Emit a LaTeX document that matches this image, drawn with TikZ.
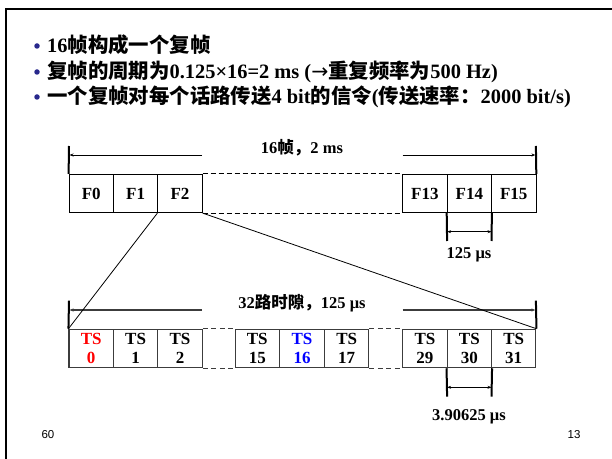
\documentclass[tikz,border=0pt]{standalone}
\usepackage{fontspec}
\setmainfont{Liberation Serif}
\newfontfamily\cjk{Noto Sans CJK SC}
\newfontfamily\footfont{Liberation Sans}
\newfontfamily\symfont{DejaVu Sans}
\usetikzlibrary{arrows.meta}
\newcommand\zh[1]{{\cjk\bfseries #1}}
\definecolor{bulletblue}{RGB}{40,40,140}
\definecolor{dgray}{RGB}{60,60,60}
\begin{document}
\begin{tikzpicture}[x=1bp,y=-1bp,
  bul/.style={circle,fill=bulletblue,inner sep=0,minimum size=5.5bp},
  txtline/.style={anchor=base west,inner sep=0,font=\fontsize{20.4bp}{24bp}\selectfont\bfseries},
  lab/.style={inner sep=0,font=\fontsize{16.5bp}{19bp}\selectfont\bfseries},
  fbox/.style={draw,line width=0.8bp,minimum width=44.4bp,minimum height=38.4bp,inner sep=0,
    font=\fontsize{17bp}{19bp}\selectfont\bfseries},
  tbox/.style={draw=dgray,line width=1.1bp,minimum width=44.4bp,minimum height=38.4bp,inner sep=0,
    align=center,font=\fontsize{17bp}{19bp}\selectfont\bfseries},
  tickln/.style={line width=2bp},
  dimln/.style={line width=0.8bp,-{Stealth[length=4bp,width=3bp]}},
  ddimln/.style={line width=0.8bp,{Stealth[length=4bp,width=3bp]}-{Stealth[length=4bp,width=3bp]}},
  gdimln/.style={draw=dgray,line width=1.6bp,-{Stealth[length=4bp,width=3bp]}},
  dashln/.style={dash pattern=on 5bp off 3bp,line width=0.8bp},
  gdashln/.style={dash pattern=on 5bp off 3.5bp,line width=1.1bp,draw=dgray}]
\useasboundingbox (0,0) rectangle (612,459);
% frame
\coordinate (fa) at (6,459);
\coordinate (fb) at (6,9);
\coordinate (fc) at (612,9);
\draw[line width=2.5bp] (fa) -- (fb) -- (fc);
% bullets
\node[bul] (b1) at (37,46) {};
\node[bul] (b2) at (37,72) {};
\node[bul] (b3) at (37,97) {};
\node[txtline] (l1) at (47,53) {16\zh{帧构成一个复帧}};
\node[txtline] (l2) at (47,79) {\zh{复帧的周期为}0.125×16=2 ms ({\symfont\mdseries →}\zh{重复频率为}500 Hz)};
\node[txtline] (l3) at (47,104) {\zh{一个复帧对每个话路传送}4 bit\zh{的信令}(\zh{传送速率：}2000 bit/s)};
% top row
\node[fbox] (f0) at (91.2,193.5) {F0};
\node[fbox] (f1) at (135.6,193.5) {F1};
\node[fbox] (f2) at (180.0,193.5) {F2};
\node[fbox] (f13) at (424.9,193.5) {F13};
\node[fbox] (f14) at (469.3,193.5) {F14};
\node[fbox] (f15) at (513.7,193.5) {F15};
\draw[dashln] (f2.north east) -- (f13.north west);
\draw[dashln] (f2.south east) -- (f13.south west);
% top dimension
\coordinate (tl1) at (69,146);
\coordinate (tr1) at (535.9,146);
\coordinate (al) at (69.5,155);
\coordinate (am) at (202.2,155);
\coordinate (an) at (402.7,155);
\coordinate (ar) at (535.4,155);
\draw[tickln] (tl1) -- (f0.north west);
\draw[tickln] (tr1) -- (f15.north east);
\draw[dimln] (am) -- (al);
\draw[dimln] (an) -- (ar);
\node[lab] (t16) at (302,148) {16\zh{帧，}2 ms};
% F14 width
\coordinate (fl) at (447.1,241);
\coordinate (fr) at (491.5,241);
\draw[tickln] (f14.south west) -- (fl);
\draw[tickln] (f14.south east) -- (fr);
\coordinate (fla) at (447.1,231.7);
\coordinate (fra) at (491.5,231.7);
\draw[ddimln] (fla) -- (fra);
\node[lab] (t125) at (469,255) {125 μs};
% bottom row
\node[tbox,text=red] (ts0) at (91.2,348.5) {TS\\0};
\node[tbox] (ts1) at (135.6,348.5) {TS\\1};
\node[tbox] (ts2) at (180.0,348.5) {TS\\2};
\node[tbox] (ts15) at (257.3,348.5) {TS\\15};
\node[tbox,text=blue] (ts16) at (302.0,348.5) {TS\\16};
\node[tbox] (ts17) at (346.7,348.5) {TS\\17};
\node[tbox] (ts29) at (424.9,348.5) {TS\\29};
\node[tbox] (ts30) at (469.3,348.5) {TS\\30};
\node[tbox] (ts31) at (513.7,348.5) {TS\\31};
\draw[gdashln] (ts2.north east) -- (ts15.north west);
\draw[gdashln] (ts2.south east) -- (ts15.south west);
\draw[gdashln] (ts17.north east) -- (ts29.north west);
\draw[gdashln] (ts17.south east) -- (ts29.south west);
% bottom dimension
\coordinate (bl1) at (69,300.7);
\coordinate (br1) at (535.9,300.7);
\coordinate (bal) at (69.5,310);
\coordinate (bam) at (202.2,310);
\coordinate (ban) at (402.7,310);
\coordinate (bar) at (535.4,310);
\draw[tickln] (bl1) -- (ts0.north west);
\draw[tickln] (br1) -- (ts31.north east);
\draw[gdimln] (bam) -- (bal);
\draw[gdimln] (ban) -- (bar);
\node[lab] (t32) at (302,302.7) {32\zh{路时隙，}125 μs};
% TS30 width
\coordinate (tl) at (447.1,396.7);
\coordinate (tr) at (491.5,396.7);
\draw[tickln] (ts30.south west) -- (tl);
\draw[tickln] (ts30.south east) -- (tr);
\coordinate (tla) at (447.1,387.3);
\coordinate (tra) at (491.5,387.3);
\draw[ddimln] (tla) -- (tra);
\node[lab] (t39) at (469,416.7) {3.90625 μs};
% expansion lines
\draw[line width=0.8bp] (f2.south west) -- (ts0.north west);
\draw[line width=0.8bp] (f2.south east) -- (ts31.north east);
% footer
\node[inner sep=0,font=\footfont\fontsize{11.5bp}{13bp}\selectfont] (p60) at (48,435) {60};
\node[inner sep=0,font=\footfont\fontsize{11.5bp}{13bp}\selectfont] (p13) at (574,435) {13};
\end{tikzpicture}
\end{document}
